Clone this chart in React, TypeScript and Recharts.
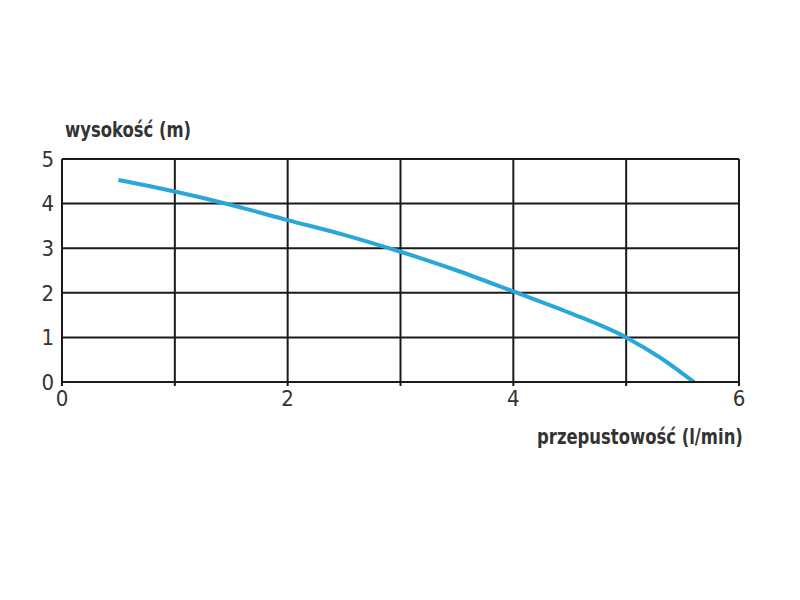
import React from 'react'
import { LineChart, Line, XAxis, YAxis, CartesianGrid } from 'recharts'

// flow rate (l/min) and head (m)
const flow = [0.5, 1, 1.5, 2, 2.5, 3, 3.5, 4, 4.5, 5, 5.3, 5.6]
const head = [4.53, 4.27, 3.97, 3.63, 3.3, 2.92, 2.5, 2.03, 1.55, 1.0, 0.55, 0]

const xTicks = [0, 1, 2, 3, 4, 5, 6]
const yTicks = [0, 1, 2, 3, 4, 5]

const yTitle = 'wysokość (m)'
const xTitle = 'przepustowość (l/min)'

const data = flow.map((f, i) => ({ flow: f, head: head[i] }))

const font = "'Liberation Sans Narrow', 'DejaVu Sans Condensed', sans-serif"

const titleStyle: React.CSSProperties = {
  position: 'absolute',
  fontSize: 21,
  fontWeight: 'bold',
  color: '#333',
  whiteSpace: 'nowrap',
  transform: 'scaleX(0.87)',
  transformOrigin: 'left top',
}

const App: React.FC = () => {
  return (
    <div style={{ position: 'relative', width: 792, height: 592, background: '#fff', fontFamily: font }}>
      <LineChart
        width={792}
        height={592}
        data={data}
        margin={{ top: 151, right: 61, left: 14, bottom: 188 }}
      >
        <CartesianGrid stroke="#1a1a1a" strokeWidth={2} />
        <XAxis
          dataKey="flow"
          type="number"
          domain={[0, 6]}
          ticks={xTicks}
          tickFormatter={(v: number) => (v % 2 === 0 ? String(v) : '')}
          height={30}
          stroke="#1a1a1a"
          strokeWidth={2}
          tickSize={4}
          tickMargin={4}
          tick={{ fill: '#333', fontSize: 22, fontFamily: font }}
        />
        <YAxis
          type="number"
          domain={[0, 5]}
          ticks={yTicks}
          width={40}
          stroke="#1a1a1a"
          strokeWidth={2}
          tickLine={false}
          tickSize={4}
          tickMargin={4}
          tick={{ fill: '#333', fontSize: 22, fontFamily: font }}
        />
        <Line
          dataKey="head"
          type="monotone"
          stroke="#29a8d8"
          strokeWidth={4}
          dot={false}
          isAnimationActive={false}
        />
      </LineChart>
      <div style={{ ...titleStyle, left: 57, top: 110 }}>{yTitle}</div>
      <div style={{ ...titleStyle, left: 529, top: 417 }}>{xTitle}</div>
    </div>
  )
}

export default App
